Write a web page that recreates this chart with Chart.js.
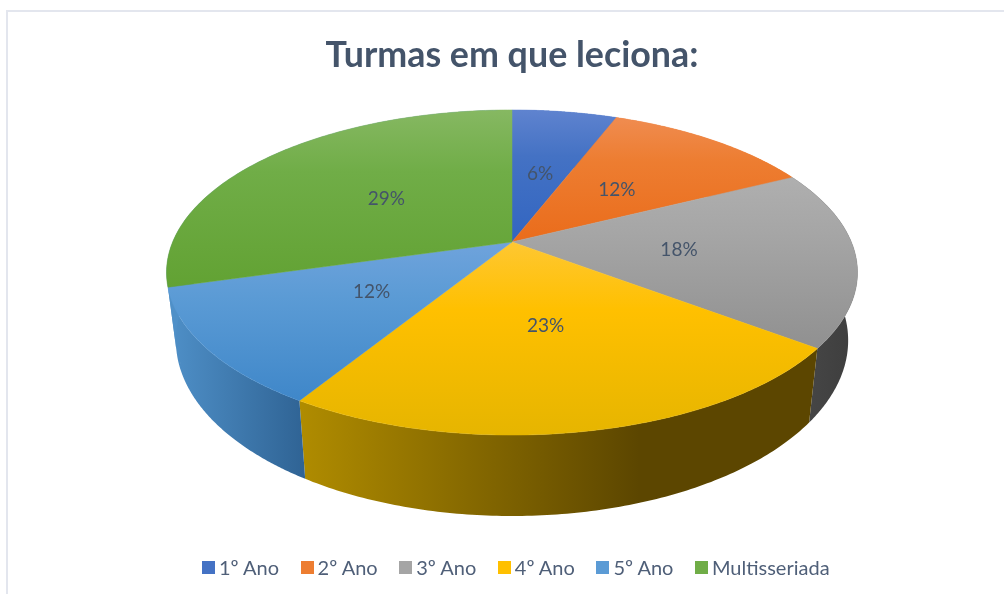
<!DOCTYPE html>
<html lang="pt">
<head>
    <meta charset="UTF-8">
    <title>Turmas em que leciona</title>
    <script src="https://cdn.jsdelivr.net/npm/chart.js"></script>
    <style>
        body { margin: 0; background: #fff; }
        #wrap { position: relative; width: 1004px; height: 594px; overflow: hidden; filter: blur(0.45px); }
        #frame { position: absolute; left: 6px; top: 10px; width: 1010px; height: 600px; border: 2px solid #e3e6ee; box-sizing: border-box; }
        #chart { position: absolute; left: 0; top: 0; }
        #legend { position: absolute; left: 202px; top: 555px; display: flex; gap: 21.5px; font: 20px Lato, sans-serif; color: #4f5f78; line-height: 24px; }
        #legend .item { display: flex; align-items: center; }
        #legend .box { width: 13px; height: 13px; margin-right: 4px; }
    </style>
</head>
<body>
<div id="wrap">
    <div id="frame"></div>
    <canvas id="chart" width="1004" height="594"></canvas>
    <div id="legend"></div>
</div>
<script>
    const categories = ['1º Ano', '2º Ano', '3º Ano', '4º Ano', '5º Ano', 'Multisseriada'];
    const values = [2, 4, 6, 8, 4, 10];
    const percentLabels = ['6%', '12%', '18%', '23%', '12%', '29%'];
    const swatchColors = ['#4472c4', '#ed7d31', '#a5a5a5', '#ffc000', '#5b9bd5', '#70ad47'];
    const topLight = ['#5f83cf', '#f08c50', '#afafaf', '#fec732', '#6fa3dc', '#86b862'];
    const topDark = ['#3265c1', '#ea6c1b', '#909090', '#e6b500', '#3f87c9', '#62a233'];
    const sideLeft = ['#3265c1', '#ea6c1b', '#4a4a4a', '#b08c00', '#4f90c8', '#4f90c8'];
    const sideRight = ['#3265c1', '#ea6c1b', '#3d3d3d', '#5c4600', '#2f6394', '#4f90c8'];

    // perspective of the pie: circle is tilted so its centre sits above the ellipse centre
    const tilt = -0.1877;
    const spreadX = 339.3 / 132;
    const spreadY = 156.8 / 132;
    const depthX = 0.973, depthY = 1.08, depthDrop = 65.5;

    function project(el, angle, f, lower) {
        const X = Math.cos(angle) * f, Y = Math.sin(angle) * f;
        const den = 1 + tilt * Y;
        const dx = spreadX * el.outerRadius * X / den;
        const dy = spreadY * el.outerRadius * Y / den;
        if (lower) return { x: el.x + depthX * dx, y: el.y + depthDrop + depthY * dy };
        return { x: el.x + dx, y: el.y + dy };
    }

    function rimPoints(el, lower) {
        const pts = [];
        const steps = 120;
        for (let s = 0; s <= steps; s++) {
            pts.push(project(el, el.startAngle + (el.endAngle - el.startAngle) * s / steps, 1, lower));
        }
        return pts;
    }

    const pie3d = {
        id: 'pie3d',
        beforeDatasetsDraw(chart) {
            const ctx = chart.ctx;
            const arcs = chart.getDatasetMeta(0).data;

            // walls first, the top face covers whatever is behind it
            arcs.forEach((el, i) => {
                const upper = rimPoints(el, false);
                const lower = rimPoints(el, true);
                const xs = upper.concat(lower).map(p => p.x);
                const x0 = Math.min(...xs);
                const grad = ctx.createLinearGradient(x0, 0, i === 3 ? x0 + 340 : Math.max(...xs), 0);
                grad.addColorStop(0, sideLeft[i]);
                grad.addColorStop(1, sideRight[i]);
                ctx.fillStyle = grad;
                // one quad per step so the outline follows the tangent between both rims
                ctx.beginPath();
                for (let s = 0; s < upper.length - 1; s++) {
                    ctx.moveTo(upper[s].x, upper[s].y);
                    ctx.lineTo(upper[s + 1].x, upper[s + 1].y);
                    ctx.lineTo(lower[s + 1].x, lower[s + 1].y);
                    ctx.lineTo(lower[s].x, lower[s].y);
                    ctx.closePath();
                }
                ctx.fill();
            });

            arcs.forEach((el, i) => {
                const pts = rimPoints(el, false);
                const ys = pts.map(p => p.y).concat(el.y);
                const grad = ctx.createLinearGradient(0, Math.min(...ys), 0, Math.max(...ys));
                grad.addColorStop(0, topLight[i]);
                grad.addColorStop(0.35, swatchColors[i]);
                grad.addColorStop(1, topDark[i]);
                ctx.fillStyle = grad;
                ctx.strokeStyle = grad;
                ctx.lineWidth = 0.5;
                ctx.beginPath();
                ctx.moveTo(el.x, el.y);
                pts.forEach(p => ctx.lineTo(p.x, p.y));
                ctx.closePath();
                ctx.fill();
                ctx.stroke();
            });

            ctx.font = '19px Lato, sans-serif';
            ctx.fillStyle = '#44546a';
            ctx.textAlign = 'center';
            ctx.textBaseline = 'middle';
            arcs.forEach((el, i) => {
                const p = project(el, (el.startAngle + el.endAngle) / 2, 0.49, false);
                ctx.fillText(percentLabels[i], p.x, p.y + 1);
            });
            return false;
        }
    };

    new Chart(document.getElementById('chart'), {
        type: 'pie',
        data: {
            labels: categories,
            datasets: [{ data: values, backgroundColor: swatchColors, borderWidth: 0 }]
        },
        options: {
            responsive: false,
            animation: false,
            layout: { padding: { left: 20, bottom: 220 } },
            plugins: {
                legend: { display: false },
                tooltip: { enabled: false },
                title: {
                    display: true,
                    text: 'Turmas em que leciona:',
                    color: '#44546a',
                    font: { family: 'Lato', size: 35.8, weight: 'bold' },
                    padding: { top: 34, bottom: 33 }
                }
            }
        },
        plugins: [pie3d]
    });

    // legend as html, Chart.js puts too wide a gap between box and text
    const legendEl = document.getElementById('legend');
    categories.forEach((name, i) => {
        const item = document.createElement('div');
        item.className = 'item';
        const box = document.createElement('span');
        box.className = 'box';
        box.style.background = swatchColors[i];
        item.appendChild(box);
        item.appendChild(document.createTextNode(name));
        legendEl.appendChild(item);
    });
</script>
</body>
</html>
